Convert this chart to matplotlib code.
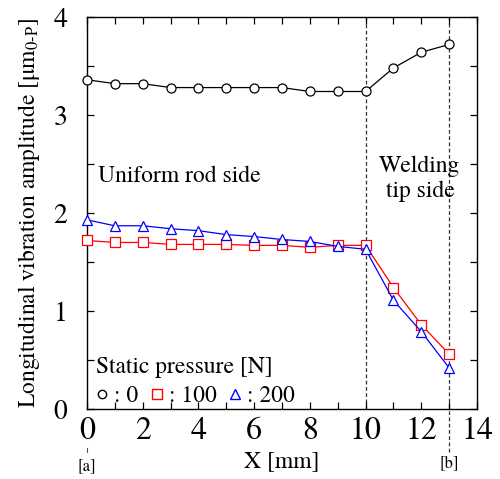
import matplotlib
matplotlib.use("Agg")
import matplotlib.pyplot as plt
from matplotlib.ticker import MultipleLocator
from matplotlib.lines import Line2D

plt.rcParams['font.family'] = ['TeX Gyre Termes', 'STIXGeneral', 'DejaVu Serif']
plt.rcParams['mathtext.fontset'] = 'stix'

# 测点位置与振幅
x_mm = [0, 1, 2, 3, 4, 5, 6, 7, 8, 9, 10, 11, 12, 13]
amp_0 = [3.36, 3.32, 3.32, 3.28, 3.28, 3.28, 3.28, 3.28, 3.24, 3.24, 3.24, 3.48, 3.64, 3.72]
amp_100 = [1.72, 1.70, 1.70, 1.68, 1.68, 1.68, 1.67, 1.67, 1.65, 1.67, 1.67, 1.24, 0.86, 0.56]
amp_200 = [1.93, 1.87, 1.87, 1.84, 1.82, 1.78, 1.76, 1.73, 1.71, 1.66, 1.63, 1.11, 0.79, 0.42]
series_labels = [': 0', ': 100', ': 200']
boundary_x = [10, 13]

fig = plt.figure(figsize=(5, 4.79), dpi=100)
ax = fig.add_axes([0.174, 0.146, 0.78, 0.8185])

ax.plot(x_mm, amp_0, color='black', lw=0.9, marker='o', ms=6.5, mfc='white', mec='black', mew=0.9, clip_on=False, zorder=3)
ax.plot(x_mm, amp_100, color='red', lw=0.9, marker='s', ms=6.5, mfc='white', mec='red', mew=0.9, clip_on=False, zorder=3)
ax.plot(x_mm, amp_200, color='blue', lw=0.9, marker='^', ms=7, mfc='white', mec='blue', mew=0.9, clip_on=False, zorder=4)

# 分界虚线
ax.axvline(boundary_x[0], color='#333333', ls=(0, (3, 2)), lw=0.9, zorder=1)
ax.plot([boundary_x[1], boundary_x[1]], [-0.44, 4], color='#333333', ls=(0, (3, 2)), lw=0.9, clip_on=False, zorder=1)
ax.plot([0, 0], [-0.40, -0.44], color='#555555', lw=0.8, clip_on=False)
ax.text(0, -0.5, '[a]', ha='center', va='top', fontsize=12)
ax.text(boundary_x[1], -0.47, '[b]', ha='center', va='top', fontsize=12)

ax.set_xlim(0, 14)
ax.set_ylim(0, 4)
ax.xaxis.set_major_locator(MultipleLocator(2))
ax.xaxis.set_minor_locator(MultipleLocator(1))
ax.yaxis.set_major_locator(MultipleLocator(1))
ax.yaxis.set_minor_locator(MultipleLocator(0.5))
ax.tick_params(which='both', direction='in', top=True, right=True, length=5, width=0.9)
ax.tick_params(axis='x', pad=5.5, labelsize=23)
ax.tick_params(axis='y', pad=14, labelsize=20)
for s in ax.spines.values():
    s.set_linewidth(1.0)

ax.set_xlabel('X [mm]', fontsize=17, labelpad=3)
ax.set_ylabel(r'Longitudinal vibration amplitude [$\mathrm{\mu m_{0\text{-}P}}$]', fontsize=17)
ax.yaxis.set_label_coords(-0.115, 0.5)

ax.text(0.4, 2.38, 'Uniform rod side', fontsize=17, va='center')
ax.text(11.95, 2.35, 'Welding\ntip side', fontsize=17, ha='center', va='center', linespacing=1.2)

handles = [
    Line2D([], [], ls='none', marker='o', ms=6, mfc='white', mec='black'),
    Line2D([], [], ls='none', marker='s', ms=7, mfc='white', mec='red'),
    Line2D([], [], ls='none', marker='^', ms=7.5, mfc='white', mec='blue'),
]
leg = ax.legend(handles, series_labels, title='Static pressure [N]', ncol=3, loc='lower left',
                bbox_to_anchor=(0.023, 0.005), frameon=False, fontsize=17, title_fontsize=17,
                handlelength=0.5, handletextpad=0.25, columnspacing=0.55, borderpad=0,
                borderaxespad=0, labelspacing=0.3)
leg._legend_box.align = 'left'

fig.savefig('out.png', dpi=100)
